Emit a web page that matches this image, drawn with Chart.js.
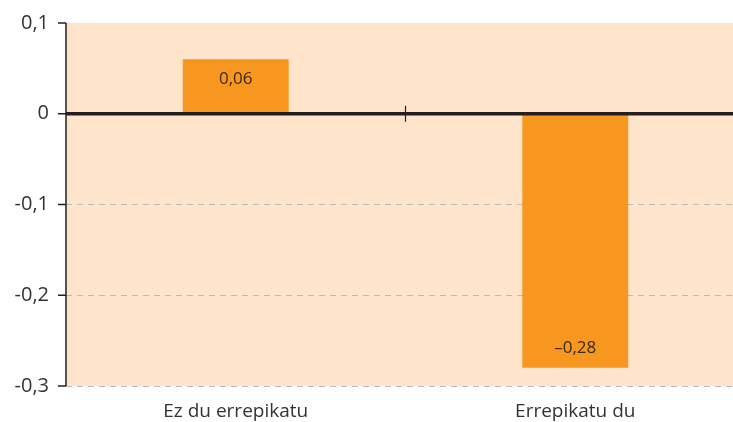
<!DOCTYPE html>
<html>
<head>
<meta charset="utf-8">
<script src="https://cdn.jsdelivr.net/npm/chart.js@4/dist/chart.umd.min.js"></script>
<style>
  html, body { margin: 0; padding: 0; background: #fff; overflow: hidden; }
  #wrap { width: 745px; height: 422px; }
</style>
</head>
<body>
<div id="wrap"><canvas id="chart" width="745" height="422"></canvas></div>
<script>
// Chart data
const categories = ['Ez du errepikatu', 'Errepikatu du'];
const values = [0.06, -0.28];
const valueLabels = ['0,06', '\u20130,28'];
const yTicks = [0.1, 0, -0.1, -0.2, -0.3];

const fmt = v => (Math.round(v * 10) / 10).toString().replace('.', ',');

// Background, zero line, y axis ticks and value labels
const decor = {
    id: 'decor',
    beforeDraw(chart) {
        const { ctx, chartArea: a } = chart;
        ctx.save();
        ctx.fillStyle = '#fde4ca';
        ctx.fillRect(a.left, a.top, a.right - a.left, a.bottom - a.top);
        ctx.restore();
    },
    afterDatasetsDraw(chart) {
        const { ctx, chartArea: a, scales } = chart;
        const y0 = scales.y.getPixelForValue(0);
        ctx.save();
        // zero line
        ctx.strokeStyle = '#231f20';
        ctx.lineWidth = 3.5;
        ctx.beginPath();
        ctx.moveTo(a.left, y0);
        ctx.lineTo(a.right, y0);
        ctx.stroke();
        // category divider tick on zero line
        const xm = (scales.x.getPixelForValue(0) + scales.x.getPixelForValue(1)) / 2;
        ctx.lineWidth = 1.2;
        ctx.beginPath();
        ctx.moveTo(xm, y0 - 8);
        ctx.lineTo(xm, y0 + 8);
        ctx.stroke();
        // y axis line and ticks
        ctx.lineWidth = 1.5;
        ctx.beginPath();
        ctx.moveTo(a.left, a.top);
        ctx.lineTo(a.left, a.bottom);
        yTicks.forEach(t => {
            const py = scales.y.getPixelForValue(t);
            ctx.moveTo(a.left - 8, py);
            ctx.lineTo(a.left, py);
        });
        ctx.stroke();
        // value labels
        ctx.fillStyle = '#3b2a1a';
        ctx.font = '17px "Open Sans", sans-serif';
        ctx.textAlign = 'center';
        ctx.textBaseline = 'middle';
        chart.getDatasetMeta(0).data.forEach((bar, i) => {
            const off = values[i] >= 0 ? 20 : -20;
            ctx.fillText(valueLabels[i], bar.x, bar.y + off);
        });
        ctx.restore();
    }
};

new Chart(document.getElementById('chart'), {
    type: 'bar',
    data: {
        labels: categories,
        datasets: [{
            data: values,
            backgroundColor: '#f7971f',
            borderWidth: 0,
            barPercentage: 0.312,
            categoryPercentage: 1
        }]
    },
    options: {
        responsive: false,
        animation: false,
        layout: { padding: { top: 23, right: 0, left: 0, bottom: 0 } },
        plugins: { legend: { display: false }, tooltip: { enabled: false } },
        scales: {
            x: {
                grid: { display: false },
                border: { display: false },
                ticks: { color: '#333', font: { family: 'Open Sans', size: 19 }, padding: 6 },
                afterFit(scale) {
                    scale.height = 36;
                    scale.paddingLeft = 0;
                    scale.paddingRight = 0;
                }
            },
            y: {
                min: -0.3,
                max: 0.1,
                afterBuildTicks(scale) { scale.ticks = yTicks.map(v => ({ value: v })); },
                grid: {
                    drawTicks: false,
                    color: ctx => (ctx.tick && (ctx.tick.value === 0 || ctx.tick.value === 0.1)) ? 'rgba(0,0,0,0)' : '#b9b9b9',
                    lineWidth: 1
                },
                border: { display: false, dash: [6, 5] },
                ticks: {
                    color: '#333',
                    font: { family: 'Open Sans', size: 20 },
                    padding: 17,
                    callback: v => fmt(v)
                },
                afterFit(scale) {
                    scale.width = 66;
                    scale.paddingTop = 0;
                    scale.paddingBottom = 0;
                }
            }
        }
    },
    plugins: [decor]
});
</script>
</body>
</html>
